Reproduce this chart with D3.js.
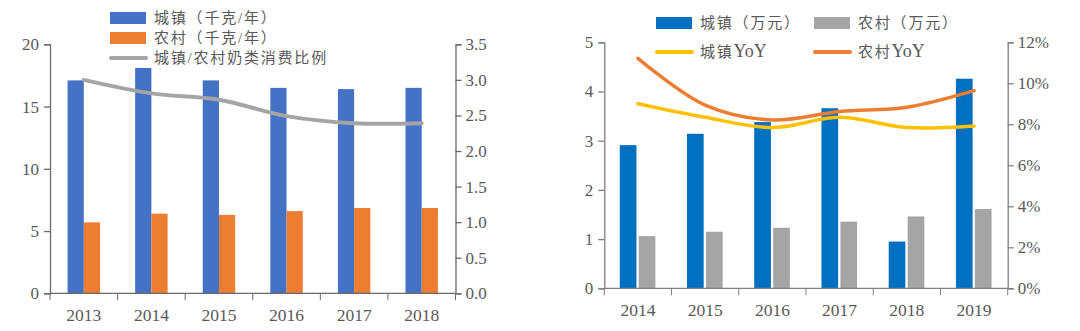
<!DOCTYPE html>
<html>
<head>
<meta charset="utf-8">
<script src="https://cdn.jsdelivr.net/npm/d3@7"></script>
<style>
  body { margin: 0; background: #fff; }
  svg text { font-family: "Liberation Serif", "Noto Sans CJK SC", serif; fill: #595959; }
</style>
</head>
<body>
<svg id="chart" width="1080" height="331"></svg>
<script>
// ---- left chart data ----
const yearsA = ["2013", "2014", "2015", "2016", "2017", "2018"];
const urbanKg = [17.1, 18.1, 17.1, 16.5, 16.4, 16.5];
const ruralKg = [5.7, 6.4, 6.3, 6.6, 6.85, 6.85];
const ratio = [3.0, 2.81, 2.72, 2.49, 2.39, 2.39];
const leftTicksA = [0, 5, 10, 15, 20];
const rightTicksA = [0, 0.5, 1, 1.5, 2, 2.5, 3, 3.5];

// ---- right chart data ----
const yearsB = ["2014", "2015", "2016", "2017", "2018", "2019"];
const urbanWan = [2.91, 3.14, 3.38, 3.66, 0.95, 4.26];
const ruralWan = [1.06, 1.15, 1.23, 1.355, 1.46, 1.61];
const urbanYoY = [0.090, 0.0834, 0.0784, 0.0834, 0.0784, 0.0792];
const ruralYoY = [0.1122, 0.0894, 0.0821, 0.0862, 0.0883, 0.0964];
const leftTicksB = [0, 1, 2, 3, 4, 5];
const rightTicksB = [0, 0.02, 0.04, 0.06, 0.08, 0.10, 0.12];

const svg = d3.select("#chart");

function drawChart(cfg) {
  const g = svg.append("g");

  const x0 = d3.scaleBand().domain(cfg.years).range([cfg.left, cfg.right]);
  const x1 = d3.scaleBand().domain(["a", "b"])
    .range([x0.bandwidth() * cfg.inner[0], x0.bandwidth() * cfg.inner[1]])
    .paddingInner(cfg.gap);
  const yL = d3.scaleLinear().domain(cfg.yLdom).range([cfg.bottom, cfg.top]);
  const yR = d3.scaleLinear().domain(cfg.yRdom).range([cfg.bottom, cfg.top]);

  // bars
  g.selectAll(".barA").data(cfg.years).enter().append("rect")
    .attr("x", d => x0(d) + x1("a"))
    .attr("y", (d, i) => yL(cfg.barsA[i]))
    .attr("width", x1.bandwidth())
    .attr("height", (d, i) => yL(0) - yL(cfg.barsA[i]))
    .attr("fill", cfg.colA);
  g.selectAll(".barB").data(cfg.years).enter().append("rect")
    .attr("x", d => x0(d) + x1("b"))
    .attr("y", (d, i) => yL(cfg.barsB[i]))
    .attr("width", x1.bandwidth())
    .attr("height", (d, i) => yL(0) - yL(cfg.barsB[i]))
    .attr("fill", cfg.colB);

  // lines on right axis
  cfg.lines.forEach(ln => {
    const line = d3.line()
      .x((d, i) => x0(cfg.years[i]) + x0.bandwidth() / 2)
      .y(d => yR(d))
      .curve(d3.curveCatmullRom.alpha(0.5));
    g.append("path").datum(ln.values)
      .attr("d", line)
      .attr("fill", "none")
      .attr("stroke", ln.color)
      .attr("stroke-width", ln.width)
      .attr("stroke-linecap", "round");
  });

  // left axis
  const axL = g.append("g").attr("transform", `translate(${cfg.left},0)`)
    .call(d3.axisLeft(yL).tickValues(cfg.lTicks).tickSize(6).tickPadding(5).tickFormat(cfg.lFmt));
  // right axis
  const axR = g.append("g").attr("transform", `translate(${cfg.right},0)`)
    .call(d3.axisRight(yR).tickValues(cfg.rTicks).tickSize(6).tickPadding(4).tickFormat(cfg.rFmt));
  // bottom axis (labels only, ticks at band edges)
  const axB = g.append("g").attr("transform", `translate(0,${cfg.bottom})`)
    .call(d3.axisBottom(x0).tickSize(0).tickPadding(15));
  const edges = cfg.years.map(d => x0(d)).concat([x0(cfg.years[cfg.years.length - 1]) + x0.step()]);
  axB.selectAll(".edge").data(edges).enter().append("line")
    .attr("x1", d => d).attr("x2", d => d)
    .attr("y1", 0).attr("y2", 7)
    .attr("stroke", cfg.axisCol);

  [axL, axR, axB].forEach(a => {
    a.select(".domain").attr("stroke", cfg.axisCol).attr("stroke-width", 1.3);
    a.selectAll(".tick line").attr("stroke", cfg.axisCol).attr("stroke-width", 1.3);
    a.selectAll("text").style("font-size", "17px").attr("fill", "#595959");
  });
  axB.select(".domain").attr("d", `M${cfg.left},0H${cfg.right}`);
  axB.selectAll("text").style("font-size", "17.5px");
}

drawChart({
  years: yearsA, left: 50, right: 455.5, top: 44.3, bottom: 293.3,
  inner: [0.26, 0.74], gap: 0,
  yLdom: [0, 20], yRdom: [0, 3.5],
  barsA: urbanKg, barsB: ruralKg, colA: "#4472C4", colB: "#ED7D31",
  lines: [{ values: ratio, color: "#A5A5A5", width: 4 }],
  lTicks: leftTicksA, rTicks: rightTicksA,
  lFmt: d3.format("d"), rFmt: d3.format(".1f"),
  axisCol: "#6a6a6a"
});

drawChart({
  years: yearsB, left: 604.3, right: 1007.7, top: 42.3, bottom: 288.3,
  inner: [0.23, 0.76], gap: 0.12,
  yLdom: [0, 5], yRdom: [0, 0.12],
  barsA: urbanWan, barsB: ruralWan, colA: "#0070C0", colB: "#A5A5A5",
  lines: [
    { values: ruralYoY, color: "#ED7D31", width: 3.5 },
    { values: urbanYoY, color: "#FFC000", width: 3.5 }
  ],
  lTicks: leftTicksB, rTicks: rightTicksB,
  lFmt: d3.format("d"), rFmt: d3.format(".0%"),
  axisCol: "#7f7f7f"
});

// ---- legends ----
function legendItem(x, y, kind, color, label, latin) {
  const g = svg.append("g");
  if (kind === "rect") {
    g.append("rect").attr("x", x).attr("y", y - 6).attr("width", 36).attr("height", 12).attr("fill", color);
  } else {
    g.append("line").attr("x1", x + 1).attr("x2", x + 36).attr("y1", y).attr("y2", y)
      .attr("stroke", color).attr("stroke-width", 4).attr("stroke-linecap", "round");
  }
  const t = g.append("text").attr("x", x + 44).attr("y", y).attr("dy", "0.35em")
    .style("font-size", "15px");
  t.append("tspan").style("letter-spacing", "1.8px").text(label);
  if (latin) t.append("tspan").style("font-size", "18px").text(latin);
}

legendItem(110, 18, "rect", "#4472C4", "城镇（千克/年）");
legendItem(110, 38, "rect", "#ED7D31", "农村（千克/年）");
legendItem(110, 58, "line", "#A5A5A5", "城镇/农村奶类消费比例");

legendItem(656, 23, "rect", "#0070C0", "城镇（万元）");
legendItem(814, 23, "rect", "#A5A5A5", "农村（万元）");
legendItem(656, 52, "line", "#FFC000", "城镇", "YoY");
legendItem(814, 52, "line", "#ED7D31", "农村", "YoY");
</script>
</body>
</html>
